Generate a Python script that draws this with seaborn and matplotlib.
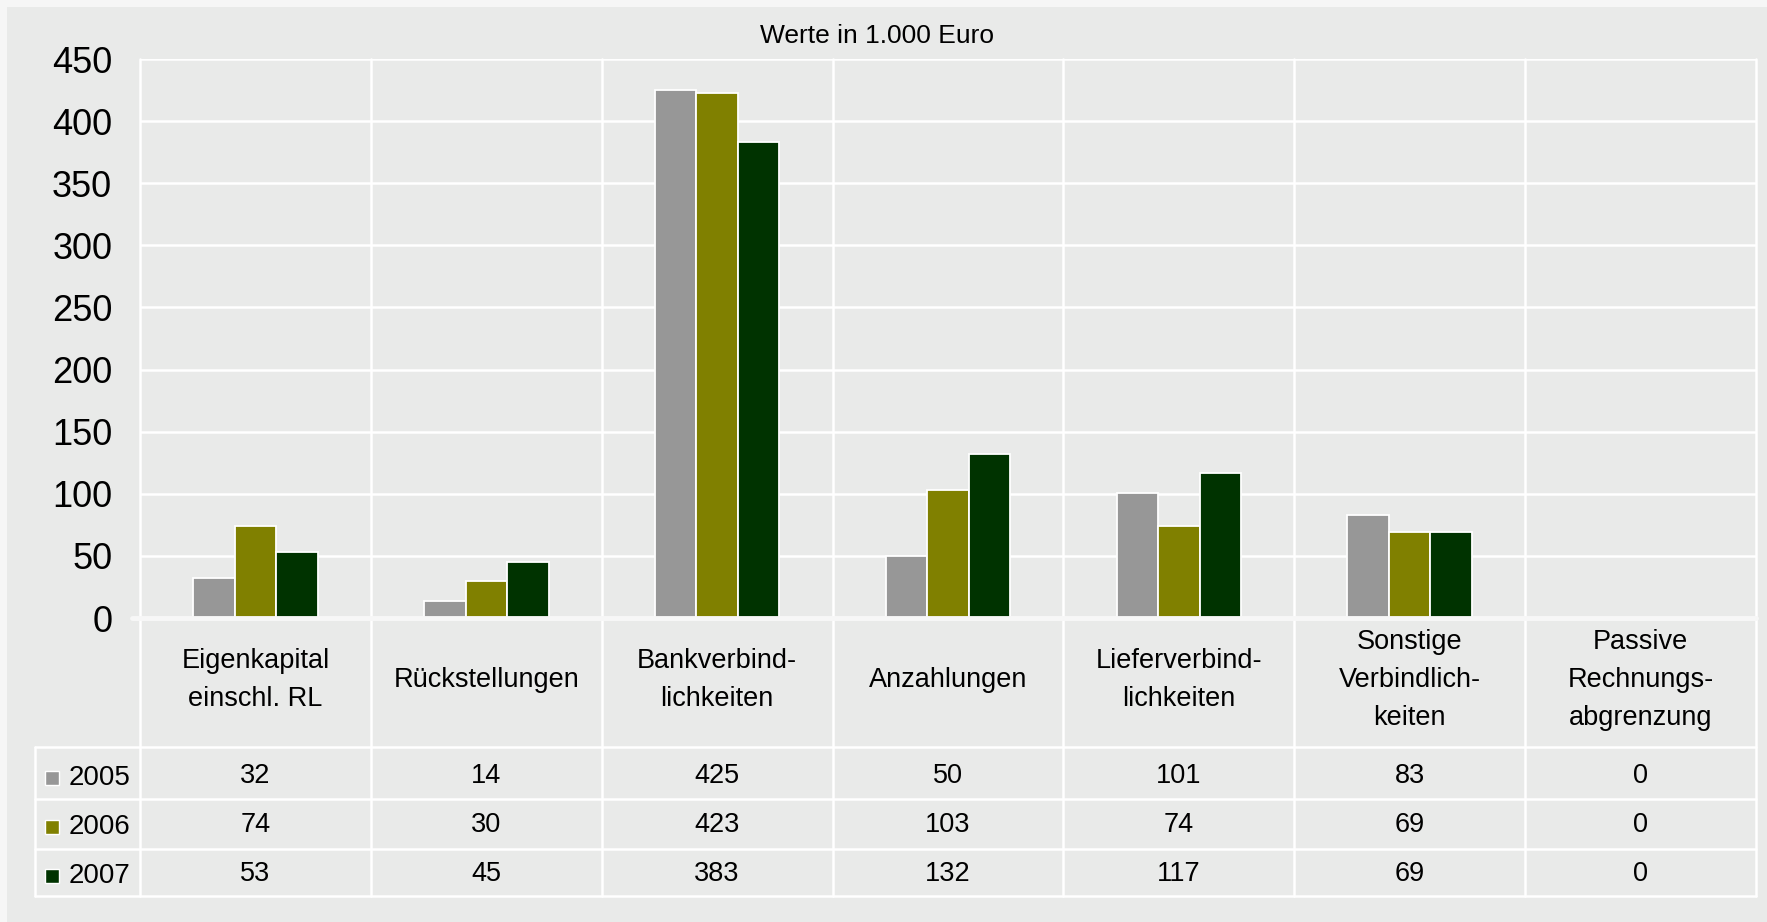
import matplotlib
matplotlib.use("Agg")
import matplotlib.pyplot as plt
import matplotlib.transforms as mtransforms
from matplotlib.patches import Rectangle
import seaborn as sns
import pandas as pd

# data
categories = ["Eigenkapital\neinschl. RL", "Rückstellungen", "Bankverbind-\nlichkeiten",
              "Anzahlungen", "Lieferverbind-\nlichkeiten", "Sonstige\nVerbindlich-\nkeiten",
              "Passive\nRechnungs-\nabgrenzung"]
years = ["2005", "2006", "2007"]
v2005 = [32, 14, 425, 50, 101, 83, 0]
v2006 = [74, 30, 423, 103, 74, 69, 0]
v2007 = [53, 45, 383, 132, 117, 69, 0]
colors = ["#979797", "#808000", "#003300"]
yticks = [0, 50, 100, 150, 200, 250, 300, 350, 400, 450]
title = "Werte in 1.000 Euro"

values = [v2005, v2006, v2007]
df = pd.DataFrame({
    "cat": categories * 3,
    "year": [y for y in years for _ in categories],
    "value": v2005 + v2006 + v2007,
})

panel = "#e9eae9"
W, H = 1767, 922

sns.set_style("white")
plt.rcParams["font.family"] = ["Liberation Sans", "DejaVu Sans"]
plt.rcParams["text.color"] = "black"
plt.rcParams["ytick.color"] = "black"
plt.rcParams["ytick.labelcolor"] = "black"

fig = plt.figure(figsize=(W / 100, H / 100), dpi=100)
fig.patch.set_facecolor("#f6f6f6")
fig.add_artist(Rectangle((7 / W, 0), 1, 1 - 7 / H, transform=fig.transFigure,
                         facecolor=panel, edgecolor="none", zorder=0))

left, right, top, zero = 140, 1756, 59, 618
ax = fig.add_axes([left / W, 1 - zero / H, (right - left) / W, (zero - top) / H])
ax.set_facecolor(panel)

sns.barplot(data=df, x="cat", y="value", hue="year", order=categories,
            hue_order=years, palette=colors, saturation=1, width=0.54,
            edgecolor="white", linewidth=1.3, ax=ax, legend=False, zorder=3)

ax.set_xlim(-0.5, len(categories) - 0.5)
ax.set_ylim(0, 450)
ax.set_yticks(yticks)
ax.set_yticklabels([str(t) for t in yticks], fontsize=26, color="black")
ax.tick_params(axis="y", length=0, pad=20)
ax.set_xticks([])
ax.set_xlabel("")
ax.set_ylabel("")
for s in ax.spines.values():
    s.set_visible(False)

for t in yticks[1:]:
    ax.axhline(t, color="white", lw=1.8, zorder=1)

# pixel rows -> axes fraction
ah = zero - top
def yfrac(py):
    return (zero - py) / ah

aw = right - left
table_left = -(left - 35) / aw
bottom = yfrac(896)

# vertical separators (plot + table)
for i in range(len(categories) + 1):
    ax.axvline(i - 0.5, ymin=bottom, ymax=1, color="white", lw=1.8,
               clip_on=False, zorder=1)

# zero line
ax.axhline(0, xmin=-0.005, xmax=1, color="#f7f7f7", lw=3.5, clip_on=False,
           solid_capstyle="round", zorder=4)

# table lines
for py in [747, 799, 849, 896]:
    ax.plot([table_left, 1], [yfrac(py), yfrac(py)], color="white", lw=1.8,
            transform=ax.transAxes, clip_on=False, zorder=1)
ax.plot([table_left, table_left], [bottom, yfrac(747)], color="white", lw=1.8,
        transform=ax.transAxes, clip_on=False, zorder=1)

trans = mtransforms.blended_transform_factory(ax.transData, ax.transAxes)

# category labels
for i, c in enumerate(categories):
    ax.text(i, yfrac(680), c, transform=trans, ha="center", va="center",
            fontsize=19.5, linespacing=1.6, clip_on=False, color="black")

# table values + legend keys
row_centers = [776, 825, 874]
for r, vals in enumerate(values):
    for i, v in enumerate(vals):
        ax.text(i, yfrac(row_centers[r]), str(v), transform=trans,
                ha="center", va="center", fontsize=19.5, clip_on=False,
                color="black")
    fig.add_artist(Rectangle((45 / W, 1 - (row_centers[r] + 9) / H), 14 / W, 14 / H,
                             transform=fig.transFigure, facecolor=colors[r],
                             edgecolor="white", lw=1.0, zorder=5))
    fig.text(69 / W, 1 - (row_centers[r] + 2) / H, years[r], ha="left",
             va="center", fontsize=20, color="black")

fig.text(877 / W, 1 - 36 / H, title, ha="center", va="center", fontsize=19,
         color="black")

fig.savefig("out.png", dpi=100, facecolor=fig.get_facecolor())
